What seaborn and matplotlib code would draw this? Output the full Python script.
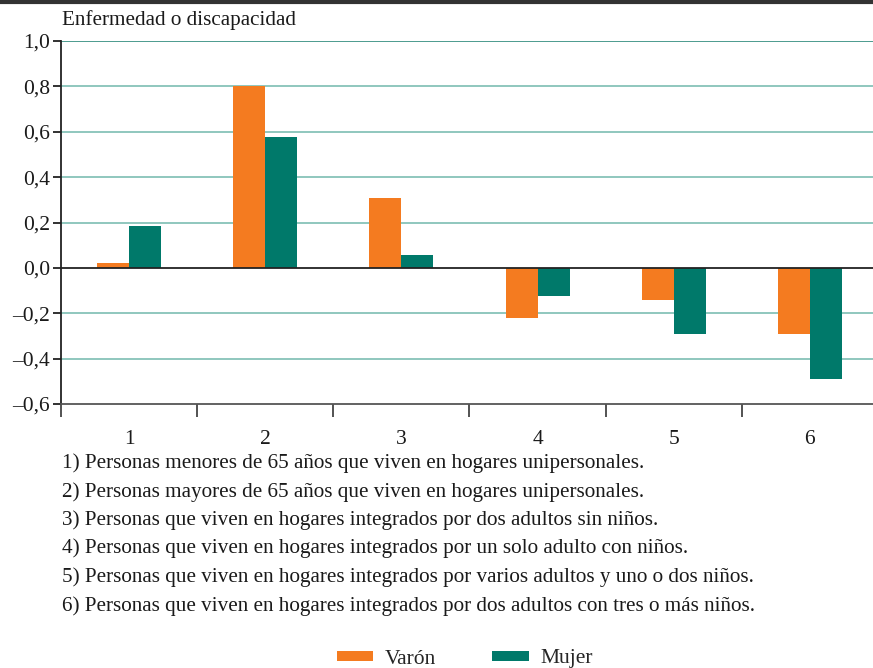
import matplotlib
matplotlib.use("Agg")
import matplotlib.pyplot as plt
import seaborn as sns
import pandas as pd
from matplotlib.patches import Patch
from matplotlib.lines import Line2D

categories = ["1", "2", "3", "4", "5", "6"]
varon = [0.02, 0.80, 0.31, -0.22, -0.14, -0.29]
mujer = [0.185, 0.575, 0.057, -0.125, -0.29, -0.49]
series_names = ["Varón", "Mujer"]
yticks = [-0.6, -0.4, -0.2, 0.0, 0.2, 0.4, 0.6, 0.8, 1.0]
ytick_labels = ["\u20130,6", "\u20130,4", "\u20130,2", "0,0", "0,2", "0,4", "0,6", "0,8", "1,0"]
title = "Enfermedad o discapacidad"
notes = [
    "1) Personas menores de 65 años que viven en hogares unipersonales.",
    "2) Personas mayores de 65 años que viven en hogares unipersonales.",
    "3) Personas que viven en hogares integrados por dos adultos sin niños.",
    "4) Personas que viven en hogares integrados por un solo adulto con niños.",
    "5) Personas que viven en hogares integrados por varios adultos y uno o dos niños.",
    "6) Personas que viven en hogares integrados por dos adultos con tres o más niños.",
]

ORANGE = "#F47B20"
TEAL = "#00796A"
GRID = "#7DBDB3"

df = pd.DataFrame({
    "cat": categories * 2,
    "val": varon + mujer,
    "sexo": [series_names[0]] * 6 + [series_names[1]] * 6,
})

sns.set_theme(style="white")
plt.rcParams["font.family"] = ["Liberation Serif", "DejaVu Serif"]

W, H = 873, 668
fig = plt.figure(figsize=(W / 100, H / 100), dpi=100)
ax = fig.add_axes([61 / W, (H - 404) / H, 817 / W, (404 - 41) / H])

for y in yticks:
    if y in (0.0, -0.6):
        continue
    ax.axhline(y, color=GRID if y != 1.0 else "#2E8A7C", lw=1.2, zorder=0)

sns.barplot(data=df, x="cat", y="val", hue="sexo", order=categories,
            hue_order=series_names, palette=[ORANGE, TEAL], width=0.47,
            saturation=1, dodge=True, ax=ax, legend=False, zorder=2,
            linewidth=0, edgecolor="none")

ax.axhline(0, color="#222222", lw=1.3, zorder=3)

ax.set_xlim(-0.5, 5.5)
ax.set_ylim(-0.6, 1.0)
ax.set_yticks(yticks)
ax.set_yticklabels(ytick_labels)
ax.set_xlabel("")
ax.set_ylabel("")
ax.set_xticks(range(6))
ax.set_xticklabels(categories)
ax.set_xticks([-0.5, 0.5, 1.5, 2.5, 3.5, 4.5], minor=True)
ax.tick_params(axis="x", which="major", bottom=False, length=0, pad=19, labelsize=15.5, colors="#1a1a1a")
ax.tick_params(axis="x", which="minor", bottom=True, length=9, width=1.3, color="#444444", direction="out")
ax.tick_params(axis="y", which="major", length=6, width=1.3, color="#222222", direction="out",
               labelsize=15.5, pad=2, left=True, labelcolor="#1a1a1a")
for s in ["top", "right"]:
    ax.spines[s].set_visible(False)
ax.spines["left"].set_color("#222222")
ax.spines["left"].set_linewidth(1.3)
ax.spines["bottom"].set_color("#555555")
ax.spines["bottom"].set_linewidth(1.3)
ax.grid(False)

fig.text(62 / W, (H - 20) / H, title, fontsize=15.2, ha="left", va="center", color="#1a1a1a")

note_y = [463, 492, 520, 548, 577, 606]
for txt, y in zip(notes, note_y):
    fig.text(62 / W, (H - y) / H, txt, fontsize=15.2, ha="left", va="center", color="#1a1a1a")

fig.add_artist(Line2D([0, 1], [1 - 1.5 / H, 1 - 1.5 / H], color="#333333", lw=3,
                      transform=fig.transFigure))

handles = [Patch(facecolor=ORANGE, edgecolor="none"), Patch(facecolor=TEAL, edgecolor="none")]
fig.legend(handles, series_names, loc="center", bbox_to_anchor=(465 / W, (H - 659) / H),
           ncol=2, frameon=False, fontsize=15.5, handlelength=1.7, handleheight=0.33,
           columnspacing=2.6, handletextpad=0.55, borderpad=0, borderaxespad=0)

fig.savefig("out.png", dpi=100)
